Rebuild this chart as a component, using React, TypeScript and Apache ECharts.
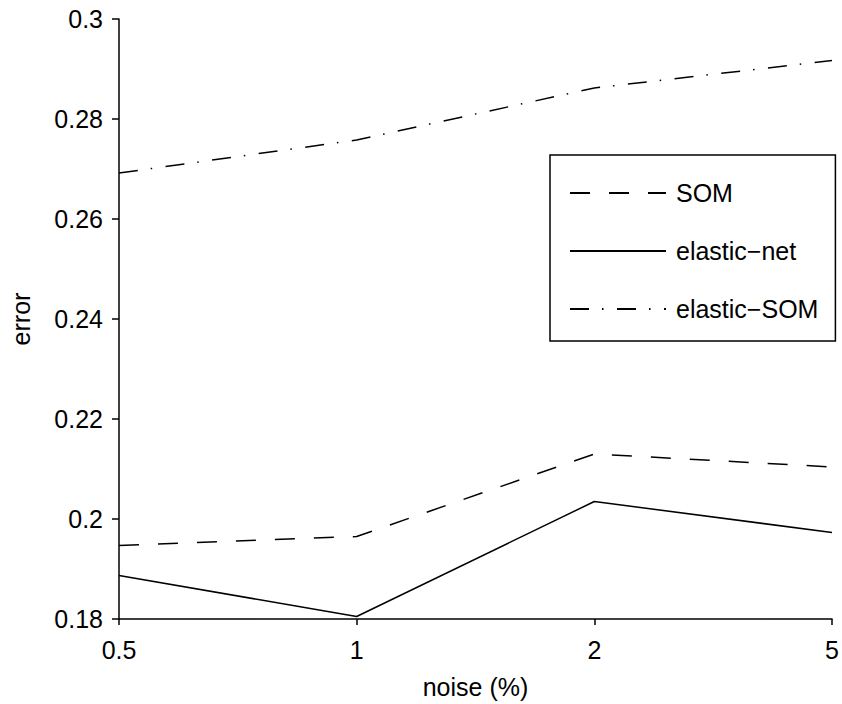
import React, { useEffect, useRef } from "react";
import * as echarts from "echarts";

const categories = ["0.5", "1", "2", "5"];
const somValues = [0.1947, 0.1965, 0.213, 0.2104];
const elasticNetValues = [0.1887, 0.1805, 0.2035, 0.1973];
const elasticSomValues = [0.2692, 0.2758, 0.2862, 0.2917];
const yTicks = [0.18, 0.2, 0.22, 0.24, 0.26, 0.28, 0.3];

const FONT = "'Liberation Sans', Arial, Helvetica, sans-serif";

export default function App() {
  const ref = useRef<HTMLDivElement>(null);
  useEffect(() => {
    const chart = echarts.init(ref.current!, undefined, { renderer: "svg" });
    const lineBase = { color: "#000", width: 1.5 };
    chart.setOption({
      animation: false,
      backgroundColor: "#fff",
      textStyle: { fontFamily: FONT },
      grid: { left: 114, right: 10, top: 19, bottom: 82 },
      legend: {
        orient: "vertical",
        left: 550,
        top: 155,
        padding: [24, 17, 18, 19],
        itemGap: 30,
        itemWidth: 96,
        itemHeight: 14,
        borderColor: "#000",
        borderWidth: 1.5,
        borderRadius: 0,
        itemStyle: { opacity: 0 },
        textStyle: { fontSize: 25, color: "#000", fontFamily: FONT, lineHeight: 28, padding: [0, 0, 0, 5] },
        data: ["SOM", "elastic−net", "elastic−SOM"],
      },
      xAxis: {
        type: "category",
        data: categories,
        boundaryGap: false,
        name: "noise (%)",
        nameLocation: "middle",
        nameGap: 55,
        nameTextStyle: { fontSize: 25, color: "#000", fontFamily: FONT },
        axisLine: { lineStyle: { color: "#000", width: 1.5 } },
        axisTick: { show: true, length: 6, inside: false, alignWithLabel: true, lineStyle: { color: "#000", width: 1.5 } },
        axisLabel: { fontSize: 25, color: "#000", margin: 18, fontFamily: FONT },
        splitLine: { show: false },
      },
      yAxis: {
        type: "value",
        min: yTicks[0],
        max: yTicks[yTicks.length - 1],
        interval: 0.02,
        name: "error",
        nameLocation: "middle",
        nameGap: 86,
        nameRotate: 90,
        nameTextStyle: { fontSize: 25, color: "#000", fontFamily: FONT },
        axisLine: { show: true, lineStyle: { color: "#000", width: 1.5 } },
        axisTick: { show: true, length: 7, inside: false, lineStyle: { color: "#000", width: 1.5 } },
        axisLabel: {
          fontSize: 25,
          color: "#000",
          margin: 16,
          fontFamily: FONT,
          formatter: (v: number) => String(parseFloat(v.toFixed(2))),
        },
        splitLine: { show: false },
      },
      series: [
        {
          name: "SOM",
          type: "line",
          data: somValues,
          symbol: "none",
          color: "#000",
          lineStyle: { ...lineBase, type: [20, 19] },
        },
        {
          name: "elastic−net",
          type: "line",
          data: elasticNetValues,
          symbol: "none",
          color: "#000",
          lineStyle: { ...lineBase, type: "solid" },
        },
        {
          name: "elastic−SOM",
          type: "line",
          data: elasticSomValues,
          symbol: "none",
          color: "#000",
          lineStyle: { ...lineBase, type: [19, 13, 1.5, 13.5] },
        },
      ],
    });
    return () => chart.dispose();
  }, []);
  return <div ref={ref} style={{ width: 842, height: 704, position: "absolute", left: 0, top: 0 }} />;
}
